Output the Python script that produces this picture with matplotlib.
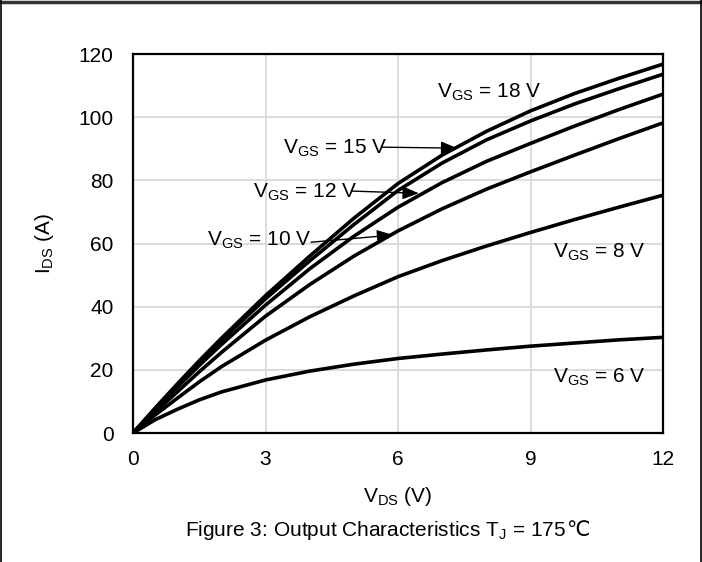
import matplotlib
matplotlib.use('Agg')
import matplotlib.pyplot as plt
from matplotlib.lines import Line2D

plt.rcParams['font.family'] = ['Liberation Sans', 'DejaVu Sans']
plt.rcParams['mathtext.fontset'] = 'custom'
plt.rcParams['mathtext.rm'] = 'Liberation Sans'
plt.rcParams['mathtext.it'] = 'Liberation Sans'

# drain-source voltage (V)
vds = [0, 0.5, 1, 1.5, 2, 3, 4, 5, 6, 7, 8, 9, 10, 11, 12]

# drain current (A) for each gate voltage
ids_18 = [0, 7.9, 15.5, 22.9, 30, 43.5, 56, 68, 79, 88, 95.5, 102, 107.5, 112.3, 116.8]
ids_15 = [0, 7.6, 15, 22.2, 29.3, 42.5, 54.5, 66, 76.8, 85.5, 92.8, 98.8, 104.2, 109, 113.6]
ids_12 = [0, 7.4, 14.5, 21.4, 28, 40.5, 52, 62.3, 71.5, 79.3, 86, 91.7, 97.2, 102.4, 107.3]
ids_10 = [0, 6.6, 13, 19.4, 25.5, 37, 47, 56, 64, 71, 77.2, 82.7, 88, 93.2, 98.2]
ids_8 = [0, 5.7, 11, 16.2, 21, 29.4, 36.8, 43.4, 49.5, 54.6, 59.2, 63.5, 67.6, 71.5, 75.3]
ids_6 = [0, 4.2, 7.5, 10.5, 13, 16.8, 19.6, 21.8, 23.6, 25, 26.3, 27.5, 28.5, 29.5, 30.3]

x_ticks = [0, 3, 6, 9, 12]
y_ticks = [0, 20, 40, 60, 80, 100, 120]

fig = plt.figure(figsize=(7.02, 5.62), dpi=100)
ax = fig.add_axes([0.1895, 0.2295, 0.755, 0.6744])

for ids in [ids_18, ids_15, ids_12, ids_10, ids_8, ids_6]:
    ax.plot(vds, ids, color='black', lw=2.6, solid_joinstyle='round', zorder=3)

ax.set_xlim(0, 12)
ax.set_ylim(0, 120)
ax.set_xticks(x_ticks)
ax.set_yticks(y_ticks)
ax.grid(True, color='#d9d9d9', lw=1.3)
ax.set_axisbelow(True)
ax.tick_params(length=0, labelsize=15, colors='black')
ax.tick_params(axis='x', pad=12)
ax.tick_params(axis='y', pad=14)
for s in ax.spines.values():
    s.set_linewidth(1.6)
    s.set_color('black')

fs = 15
ax.text(6.88, 107.9, r'V$_{\mathrm{GS}}$ = 18 V', fontsize=fs, va='center', ha='left')
ax.text(3.40, 90.2, r'V$_{\mathrm{GS}}$ = 15 V', fontsize=fs, va='center', ha='left')
ax.text(2.72, 76.3, r'V$_{\mathrm{GS}}$ = 12 V', fontsize=fs, va='center', ha='left')
ax.text(1.68, 61.1, r'V$_{\mathrm{GS}}$ = 10 V', fontsize=fs, va='center', ha='left')
ax.text(9.51, 57.3, r'V$_{\mathrm{GS}}$ = 8 V', fontsize=fs, va='center', ha='left')
ax.text(9.51, 17.7, r'V$_{\mathrm{GS}}$ = 6 V', fontsize=fs, va='center', ha='left')

arrow = dict(arrowstyle='-|>,head_length=0.55,head_width=0.22', color='black',
             lw=1.0, mutation_scale=18, shrinkA=0, shrinkB=0)
ax.annotate('', xy=(7.34, 90.2), xytext=(5.64, 90.5), arrowprops=arrow, zorder=4)
ax.annotate('', xy=(6.47, 75.9), xytext=(4.96, 76.6), arrowprops=arrow, zorder=4)
ax.annotate('', xy=(5.89, 62.7), xytext=(4.03, 60.4), arrowprops=arrow, zorder=4)

fig.text(44 / 702, 1 - 243 / 562, r'I$_{\mathrm{DS}}$ (A)', fontsize=fs,
         rotation=90, ha='center', va='center')
fig.text(398 / 702, 1 - 496 / 562, r'V$_{\mathrm{DS}}$ (V)', fontsize=fs,
         ha='center', va='center')

# caption: the degree-celsius sign is drawn as plain text after the mathtext part
cap = fig.text(185 / 702, 1 - 530 / 562,
               r'Figure 3: Output Characteristics T$_{\mathrm{J}}$ = 175',
               fontsize=fs, ha='left', va='center')
fig.canvas.draw()
bb = cap.get_window_extent()
fig.text(bb.x1 / fig.bbox.width, 1 - 530 / 562, '℃', fontsize=fs,
         family=['Liberation Sans', 'DejaVu Sans'], ha='left', va='center')

# page border
fig.add_artist(Line2D([0, 1], [1 - 1.5 / 562] * 2, color='#333333', lw=2.5,
                      transform=fig.transFigure))
fig.add_artist(Line2D([0.5 / 702] * 2, [0, 1], color='black', lw=1.2,
                      transform=fig.transFigure))
fig.add_artist(Line2D([1 - 1.5 / 702] * 2, [0, 1], color='black', lw=1.2,
                      transform=fig.transFigure))

fig.savefig('out.png', dpi=100)
